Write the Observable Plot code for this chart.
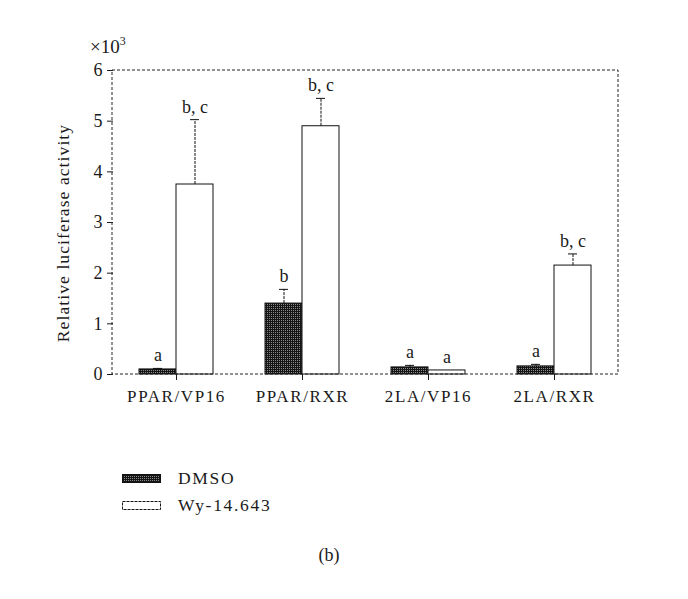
<!DOCTYPE html>
<html>
<head>
<meta charset="utf-8">
<script src="https://cdn.jsdelivr.net/npm/d3@7"></script>
<script src="https://cdn.jsdelivr.net/npm/@observablehq/plot@0.6"></script>
<style>
  body { margin: 0; background: #fff; }
  #wrap { position: relative; width: 688px; height: 599px; font-family: "Liberation Serif", "Times New Roman", serif; color: #1a1a1a; }
  #chart { position: absolute; left: 0; top: 0; }
  #chart g[aria-label^="fx-axis"] text { letter-spacing: 1.6px; font-size: 17px; }
  #chart g[aria-label^="y-axis"] text { font-size: 18px; }
  .abs { position: absolute; white-space: nowrap; }
  #ylab { left: 63px; top: 233px; font-size: 17.5px; letter-spacing: 1.1px; transform: translate(-50%, -50%) rotate(-90deg); }
  #mult { left: 90px; top: 34px; font-size: 19px; }
  #mult sup { font-size: 12px; vertical-align: 8px; }
  .leg { left: 122px; font-size: 17.5px; letter-spacing: 1.7px; display: flex; align-items: center; }
  .leg svg { margin-right: 17px; }
  #cap { left: 329px; top: 555px; transform: translate(-50%, -50%); font-size: 18px; }
</style>
</head>
<body>
<div id="wrap">
  <div id="chart"></div>
  <div class="abs" id="mult">×10<sup>3</sup></div>
  <div class="abs" id="ylab">Relative luciferase activity</div>
  <div class="abs leg" style="top:468px"><svg width="39" height="10"><rect x="0.5" y="0.5" width="38" height="8" fill="url(#dmso)" stroke="#111"/></svg>DMSO</div>
  <div class="abs leg" style="top:495px"><svg width="39" height="10"><rect x="0.5" y="0.5" width="38" height="8" fill="#fff" stroke="#111" stroke-dasharray="3,1"/></svg>Wy-14.643</div>
  <div class="abs" id="cap">(b)</div>
</div>
<script>
// ---- data ----
const categories = ["PPAR/VP16", "PPAR/RXR", "2LA/VP16", "2LA/RXR"];
const treatments = ["DMSO", "Wy-14.643"];
const dmsoMean = [0.10, 1.40, 0.14, 0.16];
const dmsoErr  = [0.02, 0.28, 0.04, 0.04];
const wyMean   = [3.75, 4.90, 0.08, 2.15];
const wyErr    = [1.28, 0.55, 0.00, 0.23];
const dmsoSig  = ["a", "b", "a", "a"];
const wySig    = ["b, c", "b, c", "a", "b, c"];
const yTicks   = [0, 1, 2, 3, 4, 5, 6];

const rows = [];
categories.forEach((c, i) => {
  rows.push({cat: c, treatment: treatments[0], value: dmsoMean[i], err: dmsoErr[i], sig: dmsoSig[i]});
  rows.push({cat: c, treatment: treatments[1], value: wyMean[i], err: wyErr[i], sig: wySig[i]});
});
const errTop = d => d.value + d.err;

const plot = Plot.plot({
  width: 688,
  height: 420,
  marginLeft: 112,
  marginRight: 70,
  marginTop: 70,
  marginBottom: 46,
  style: {fontFamily: "'Liberation Serif', 'Times New Roman', serif", fontSize: "17px", color: "#1a1a1a", background: "transparent"},
  facet: {data: rows, x: "cat"},
  fx: {domain: categories, padding: 0, axis: "bottom", label: null, tickSize: 6, tickPadding: 9},
  x: {domain: treatments, axis: null, paddingInner: 0, paddingOuter: 0.664},
  y: {domain: [0, 6], ticks: yTicks, tickFormat: "d", tickSize: 6, tickPadding: 5, label: null},
  marks: [
    Plot.barY(rows, {filter: d => d.treatment === treatments[0], x: "treatment", y: "value", fill: "url(#dmso)", stroke: "#111", strokeWidth: 1}),
    Plot.barY(rows, {filter: d => d.treatment === treatments[1], x: "treatment", y: "value", fill: "#fff", stroke: "#111", strokeWidth: 1}),
    Plot.ruleX(rows, {filter: d => d.err > 0, x: "treatment", y1: "value", y2: errTop, stroke: "#111", strokeDasharray: "3,1"}),
    Plot.tickY(rows, {filter: d => d.err > 0, x: "treatment", y: errTop, stroke: "#111", insetLeft: 14, insetRight: 14}),
    Plot.text(rows, {x: "treatment", y: errTop, text: "sig", dy: -7, lineAnchor: "bottom", fontSize: 18, fill: "#1a1a1a"})
  ]
});

const svg = d3.select(plot);
svg.insert("defs", ":first-child").html(
  '<pattern id="dmso" width="2" height="2" patternUnits="userSpaceOnUse">' +
  '<rect width="2" height="2" fill="#151515"/><rect width="1" height="1" fill="#8a8a8a"/></pattern>'
);

// dashed frame around the plotting area, taken from the plot's own scales
const ys = plot.scale("y");
const fxs = plot.scale("fx");
const yr = ys.range;
const xr = (fxs && fxs.range) ? fxs.range : [112, 618];
svg.append("rect")
  .attr("x", Math.min(...xr)).attr("y", Math.min(...yr))
  .attr("width", Math.abs(xr[1] - xr[0])).attr("height", Math.abs(yr[1] - yr[0]))
  .attr("fill", "none").attr("stroke", "#222").attr("stroke-dasharray", "3,2");

document.getElementById("chart").appendChild(plot);
</script>
</body>
</html>
